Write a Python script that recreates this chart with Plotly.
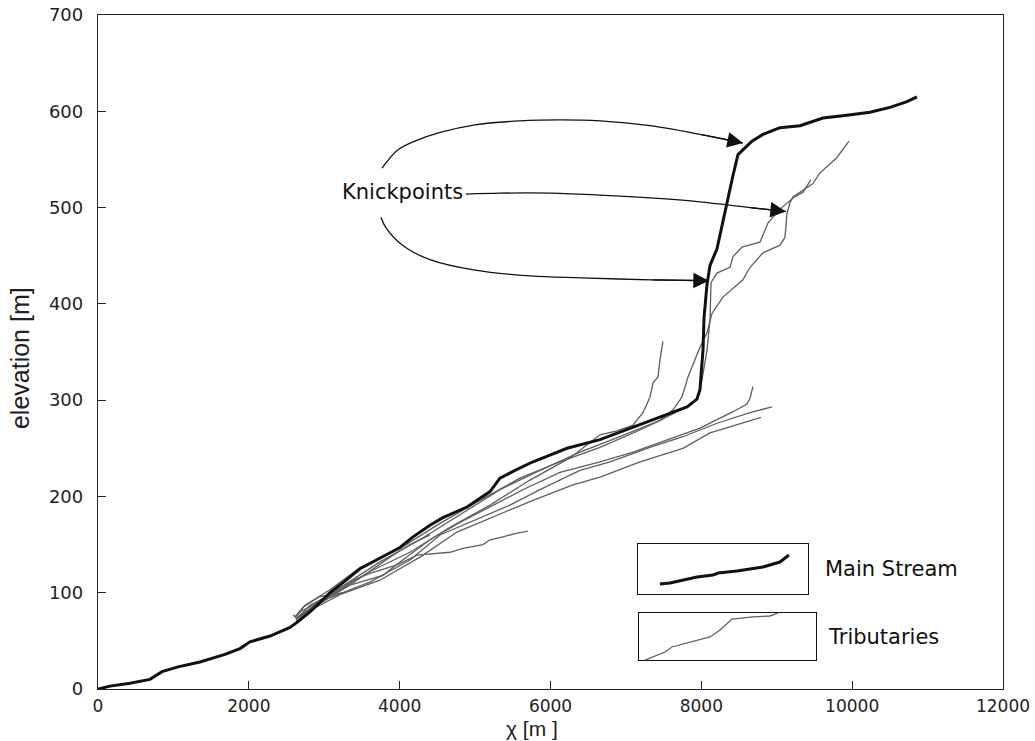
import plotly.graph_objects as go

# ---------------- data ----------------
main_chi = [0, 159, 424, 689, 849, 1061, 1352, 1684, 1883, 2015, 2281, 2546, 2652, 2811, 3076, 3275,
            3474, 3673, 3872, 4004, 4177, 4402, 4574, 4893, 5198, 5330, 5529, 5768, 5993, 6219, 6656,
            7094, 7544, 7810, 7942, 7982, 8022, 8036, 8075, 8115, 8207, 8327, 8419, 8486, 8579, 8671,
            8817, 9043, 9308, 9613, 9931, 10236, 10501, 10727, 10859]
main_elev = [0, 3, 6, 10, 18, 23, 28, 36, 42, 49, 55, 64, 70, 80, 100, 112,
             125, 133, 141, 147, 158, 170, 178, 189, 205, 219, 227, 236, 243, 250, 259,
             272, 285, 293, 301, 311, 352, 386, 420, 440, 457, 501, 533, 555, 562, 569,
             576, 583, 585, 593, 596, 599, 604, 610, 615]

trib_a_chi = [2585, 2625, 2745, 3076, 3474, 4004, 4535, 5065, 5595, 6126, 6656, 7187, 7452, 7624,
              7743, 7823, 7982, 8075, 8141, 8287, 8552, 8645, 8817, 9043, 9109, 9136, 9175, 9215,
              9480, 9573, 9798, 9958]
trib_a_elev = [77, 74, 87, 103, 126, 146, 172, 196, 219, 236, 251, 269, 279, 290,
               303, 324, 355, 370, 390, 407, 425, 438, 453, 461, 469, 494, 505, 511,
               525, 536, 552, 569]

trib_b_chi = [2625, 2811, 3209, 3739, 4269, 4800, 5330, 5860, 6391, 6921, 7452, 7850, 7956, 8009,
              8049, 8075, 8115, 8128, 8207, 8380, 8420, 8539, 8777, 8884, 9003, 9082, 9215, 9348, 9454]
trib_b_elev = [70, 82, 105, 132, 155, 181, 207, 227, 246, 262, 279, 295, 303, 321,
               339, 352, 383, 422, 432, 438, 449, 459, 464, 484, 495, 501, 510, 516, 529]

trib_c_chi = [2678, 3076, 3606, 4137, 4667, 5198, 5728, 6258, 6656, 6882, 7094, 7226, 7319, 7359,
              7425, 7452, 7491]
trib_c_elev = [80, 97, 122, 142, 168, 191, 217, 240, 264, 268, 274, 287, 303, 318,
               324, 342, 361]

trib_d_chi = [2625, 2943, 3341, 3779, 4004, 4402, 4800, 5237, 5688, 6126, 6656, 7094, 7544, 7982,
              8420, 8605, 8645, 8685]
trib_d_elev = [72, 92, 108, 118, 132, 155, 173, 191, 209, 225, 236, 246, 259, 271,
               288, 296, 302, 314]

trib_e_chi = [2678, 3076, 3606, 4137, 4535, 5025, 5463, 5860, 6391, 6789, 7319, 7756, 8207, 8645, 8937]
trib_e_elev = [77, 95, 111, 134, 160, 176, 191, 207, 227, 236, 251, 262, 276, 287, 293]

trib_f_chi = [2652, 3209, 3739, 4269, 4760, 5237, 5768, 6298, 6656, 7187, 7756, 8115, 8552, 8791]
trib_f_elev = [75, 98, 113, 137, 163, 179, 196, 212, 220, 236, 250, 266, 276, 282]

trib_g_chi = [2625, 2811, 3036, 3209, 3381, 3606, 3964, 4097, 4230, 4667, 4840, 5105, 5198, 5370, 5556, 5701]
trib_g_elev = [72, 87, 96, 103, 113, 120, 129, 134, 139, 142, 146, 150, 155, 158, 162, 164]

trib_h_chi = [2612, 2718, 2943, 3248]
trib_h_elev = [75, 85, 96, 100]

trib_i_chi = [2652, 2943, 3341, 3673, 3912, 4137, 4402]
trib_i_elev = [74, 89, 108, 126, 139, 150, 160]

tributaries = [
    (trib_a_chi, trib_a_elev), (trib_b_chi, trib_b_elev), (trib_c_chi, trib_c_elev),
    (trib_d_chi, trib_d_elev), (trib_e_chi, trib_e_elev), (trib_f_chi, trib_f_elev),
    (trib_g_chi, trib_g_elev), (trib_h_chi, trib_h_elev), (trib_i_chi, trib_i_elev),
]

# knickpoint arrow paths (data coordinates)
arrow1_chi = [3766, 3845, 3978, 4203, 4535, 4999, 5595, 6126, 6656, 7319, 7982, 8552]
arrow1_elev = [541, 549, 560, 569, 578, 586, 590, 591, 590, 585, 576, 567]
arrow2_chi = [4879, 5330, 5993, 6656, 7319, 7982, 8645, 9122]
arrow2_elev = [514, 515, 515, 513, 510, 506, 500, 496]
arrow3_chi = [3752, 3819, 4070, 4402, 4999, 5728, 6404, 7332, 8101]
arrow3_elev = [490, 479, 459, 446, 435, 429, 427, 425, 424]
arrows = [(arrow1_chi, arrow1_elev), (arrow2_chi, arrow2_elev), (arrow3_chi, arrow3_elev)]

# legend sample curves (box-relative coordinates)
leg_main_x = [0.129, 0.188, 0.347, 0.441, 0.471, 0.582, 0.735, 0.835, 0.888]
leg_main_y = [0.20, 0.22, 0.34, 0.38, 0.42, 0.46, 0.54, 0.64, 0.78]
leg_trib_x = [0.034, 0.073, 0.147, 0.186, 0.271, 0.401, 0.458, 0.525, 0.644, 0.740, 0.785]
leg_trib_y = [0.0, 0.064, 0.17, 0.277, 0.36, 0.49, 0.64, 0.87, 0.915, 0.936, 1.0]

x_ticks = [0, 2000, 4000, 6000, 8000, 10000, 12000]
y_ticks = [0, 100, 200, 300, 400, 500, 600, 700]

# ---------------- figure ----------------
TRIB_COLOR = "#5e5e5e"
INK = "#111111"
fig = go.Figure()

for cx, ey in tributaries:
    fig.add_trace(go.Scatter(x=cx, y=ey, mode="lines",
                             line=dict(color=TRIB_COLOR, width=1.3), hoverinfo="skip"))

fig.add_trace(go.Scatter(x=main_chi, y=main_elev, mode="lines",
                         line=dict(color=INK, width=3), hoverinfo="skip"))

for ax_, ay_ in arrows:
    fig.add_trace(go.Scatter(x=ax_, y=ay_, mode="lines", line=dict(color=INK, width=1.3),
                             line_shape="spline", hoverinfo="skip"))
    fig.add_annotation(x=ax_[-1], y=ay_[-1], ax=ax_[-2], ay=ay_[-2], xref="x", yref="y",
                       axref="x", ayref="y", showarrow=True, arrowhead=2, arrowsize=2.4,
                       arrowwidth=1.3, arrowcolor=INK, text="", standoff=0)

fig.add_annotation(x=4031, y=516, xref="x", yref="y", text="Knickpoints", showarrow=False,
                   font=dict(family="DejaVu Sans", size=21, color=INK))

# legend boxes as small axes
fig.add_trace(go.Scatter(x=leg_main_x, y=leg_main_y, mode="lines", xaxis="x2", yaxis="y2",
                         line=dict(color=INK, width=3), hoverinfo="skip"))
fig.add_trace(go.Scatter(x=leg_trib_x, y=leg_trib_y, mode="lines", xaxis="x3", yaxis="y3",
                         line=dict(color=TRIB_COLOR, width=1.3), hoverinfo="skip"))

fig.add_annotation(x=0.801, y=0.178, xref="paper", yref="paper", xanchor="left", yanchor="middle",
                   text="Main Stream", showarrow=False,
                   font=dict(family="DejaVu Sans", size=21, color=INK))
fig.add_annotation(x=0.804, y=0.077, xref="paper", yref="paper", xanchor="left", yanchor="middle",
                   text="Tributaries", showarrow=False,
                   font=dict(family="DejaVu Sans", size=21, color=INK))

# axis titles as annotations
fig.add_annotation(x=0.4796, y=-0.0772, xref="paper", yref="paper", xanchor="center", yanchor="bottom",
                   text="χ [m ]", showarrow=False, borderpad=0,
                   font=dict(family="Liberation Sans", size=21, color="#222222"))
fig.add_annotation(x=-0.0862, y=0.491, xref="paper", yref="paper", xanchor="center", yanchor="middle",
                   text="elevation [m]", textangle=-90, showarrow=False,
                   font=dict(family="Liberation Sans", size=25, color="#222222"))

box_axis = dict(range=[0, 1], showgrid=False, zeroline=False, showticklabels=False, ticks="",
                showline=True, mirror=True, linecolor=INK, linewidth=1.3, fixedrange=True)

fig.update_layout(
    width=1035, height=741,
    margin=dict(l=98, r=32, t=15, b=52),
    paper_bgcolor="white", plot_bgcolor="white",
    showlegend=False,
    xaxis=dict(range=[0, 12000], tickvals=x_ticks, ticktext=[str(v) for v in x_ticks],
               showgrid=False, zeroline=False, showline=True, mirror=True, automargin=False,
               linecolor="#222222", linewidth=1.3, ticks="inside", ticklen=8, tickcolor="#222222",
               tickfont=dict(family="DejaVu Sans", size=17, color="#222222"), ticklabelstandoff=1),
    yaxis=dict(range=[0, 700], tickvals=y_ticks, ticktext=[str(v) for v in y_ticks],
               showgrid=False, zeroline=False, showline=True, mirror=True, automargin=False,
               linecolor="#222222", linewidth=1.3, ticks="inside", ticklen=8, tickcolor="#222222",
               tickfont=dict(family="DejaVu Sans", size=18, color="#222222"), ticklabelstandoff=10),
    xaxis2=dict(domain=[0.5967, 0.7845], anchor="y2", **box_axis),
    yaxis2=dict(domain=[0.1409, 0.2151], anchor="x2", **box_axis),
    xaxis3=dict(domain=[0.5978, 0.7934], anchor="y3", **box_axis),
    yaxis3=dict(domain=[0.0430, 0.1128], anchor="x3", **box_axis),
)

fig.write_html("out.html")
